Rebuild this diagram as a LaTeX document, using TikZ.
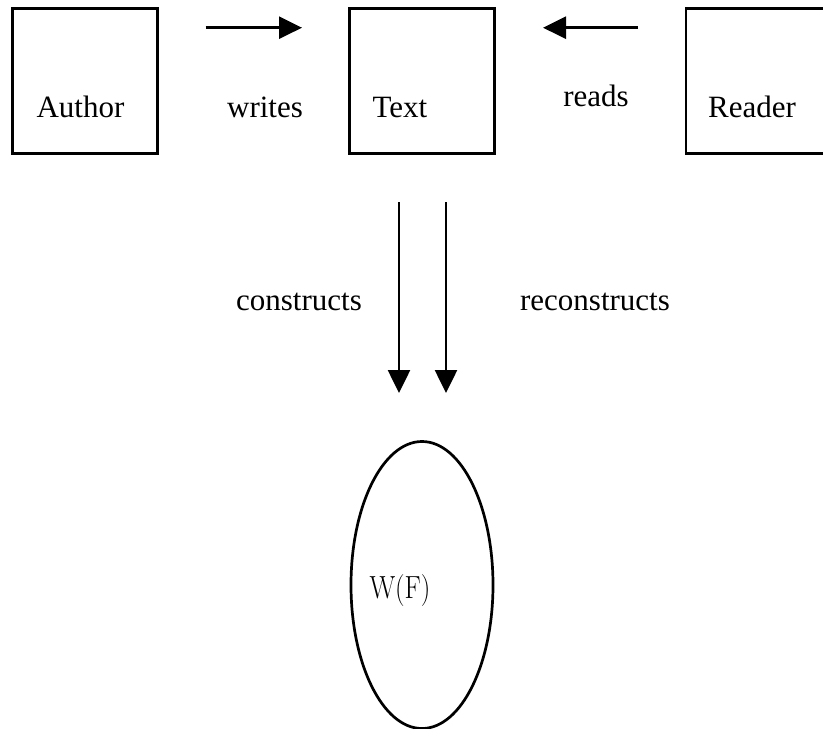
\documentclass[tikz,border=0pt]{standalone}
\usepackage{fontspec}
\newfontfamily\garfont{Liberation Serif}
\usetikzlibrary{shapes.geometric,arrows.meta}
\begin{document}
\begin{tikzpicture}[x=1pt,y=-1pt,
  box/.style={draw,line width=2.8pt,minimum width=145pt,minimum height=144.6pt,inner sep=0pt},
  lbl/.style={anchor=base,inner sep=0pt,font=\garfont\fontsize{31}{37}\selectfont},
  arr/.style={line width=2.6pt,-{Triangle[length=23pt,width=22pt]}}]
\useasboundingbox (0,0) rectangle (823,729);
\node[box] (author) at (85.2,81) {};
\node[box] (text) at (421.8,81) {};
\node[box] (reader) at (758.5,81) {};
\node[lbl] (authorl) at (80.5,117) {Author};
\node[lbl] (textl) at (400,117) {Text};
\node[lbl] (readerl) at (752,117) {Reader};
\node[lbl] (writes) at (265,117) {writes};
\node[lbl] (reads) at (596,106.5) {reads};
\node[lbl] (constructs) at (299,310) {constructs};
\node[lbl] (reconstructs) at (595,310) {reconstructs};
\node[draw,ellipse,line width=2.7pt,minimum width=142pt,minimum height=287pt,inner sep=0pt] (world) at (422,585) {};
\node[anchor=base,inner sep=0pt] (wf) at (400,598) {\scalebox{0.84}[1]{\fontsize{32}{38}\selectfont W(F)}};
\coordinate (w1) at (205.7,27.7);
\coordinate (w2) at (302,27.7);
\coordinate (r1) at (638,27.7);
\coordinate (r2) at (543,27.7);
\coordinate (c1) at (399,202);
\coordinate (c2) at (399,393);
\coordinate (d1) at (446,202);
\coordinate (d2) at (446,393);
\draw[arr] (w1) -- (w2);
\draw[arr] (r1) -- (r2);
\draw[arr] (c1) -- (c2);
\draw[arr] (d1) -- (d2);
\end{tikzpicture}
\end{document}
